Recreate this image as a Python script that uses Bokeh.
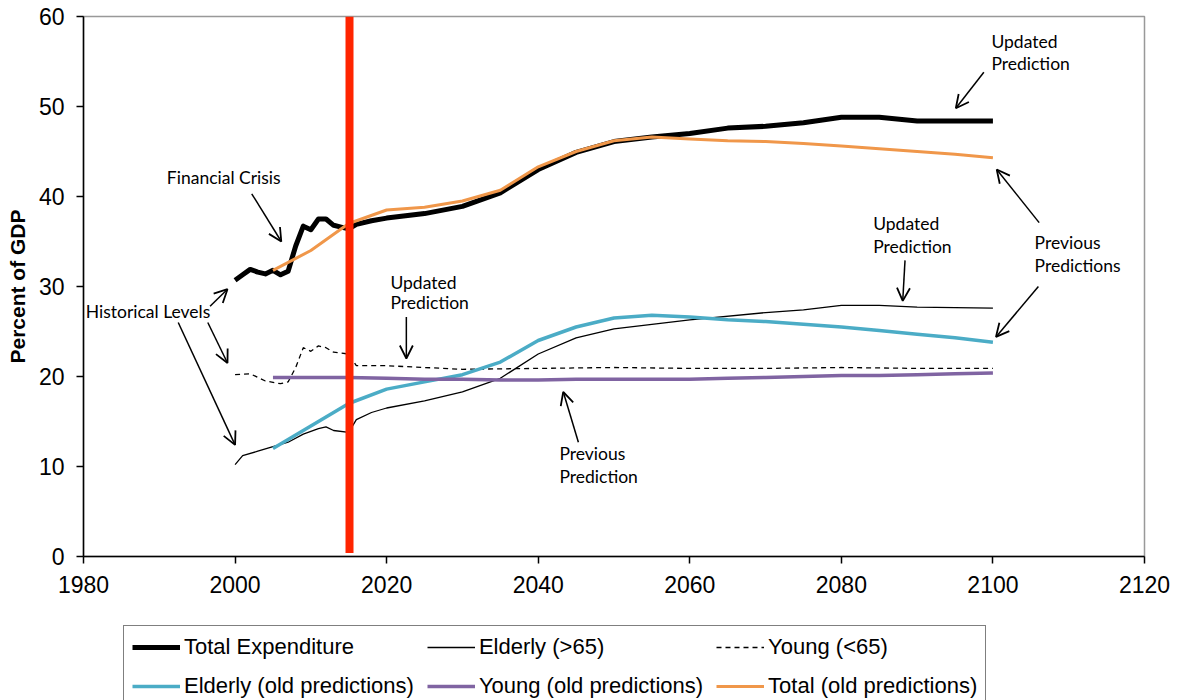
from bokeh.plotting import figure
from bokeh.layouts import column
from bokeh.models import (FixedTicker, Legend, LegendItem, Label, Arrow, OpenHead)
from bokeh.embed import file_html
from bokeh.resources import INLINE

# ---------------- data ----------------
total_years = [2000, 2001, 2002, 2003, 2004, 2005, 2006, 2007, 2008, 2009, 2010, 2011,
               2012, 2013, 2014, 2015, 2016, 2018, 2020, 2025, 2030, 2035, 2040, 2045,
               2050, 2055, 2060, 2065, 2070, 2075, 2080, 2085, 2090, 2095, 2100]
total_vals = [30.7, 31.3, 31.9, 31.6, 31.4, 31.8, 31.3, 31.7, 34.5, 36.7, 36.3, 37.5,
              37.5, 36.8, 36.6, 36.4, 36.9, 37.3, 37.6, 38.1, 38.9, 40.4, 43.0, 44.9,
              46.1, 46.6, 47.0, 47.6, 47.8, 48.2, 48.8, 48.8, 48.4, 48.4, 48.4]

elderly_years = [2000, 2001, 2003, 2005, 2007, 2009, 2011, 2012, 2013, 2015, 2016, 2018,
                 2020, 2025, 2030, 2035, 2040, 2045, 2050, 2055, 2060, 2070, 2075, 2080,
                 2085, 2090, 2100]
elderly_vals = [10.2, 11.2, 11.7, 12.2, 12.7, 13.6, 14.2, 14.4, 14.0, 13.8, 15.2, 16.0,
                16.5, 17.3, 18.3, 19.8, 22.5, 24.3, 25.3, 25.8, 26.3, 27.1, 27.4, 27.9,
                27.9, 27.7, 27.6]

young_years = [2000, 2002, 2004, 2006, 2007, 2008, 2009, 2010, 2011, 2012, 2013, 2015,
               2016, 2020, 2025, 2030, 2040, 2050, 2060, 2070, 2080, 2090, 2100]
young_vals = [20.2, 20.3, 19.5, 19.2, 19.4, 21.0, 23.2, 22.8, 23.4, 23.2, 22.7, 22.5,
              21.2, 21.2, 21.0, 20.8, 20.9, 21.0, 20.9, 20.9, 21.0, 20.9, 20.9]

old_years = [2005, 2010, 2015, 2020, 2025, 2030, 2035, 2040, 2045, 2050, 2055, 2060,
             2065, 2070, 2075, 2080, 2085, 2090, 2095, 2100]
elderly_old = [12.0, 14.5, 17.0, 18.6, 19.4, 20.2, 21.6, 24.0, 25.5, 26.5, 26.8, 26.6,
               26.3, 26.1, 25.8, 25.5, 25.1, 24.7, 24.3, 23.8]
young_old = [19.9, 19.9, 19.9, 19.8, 19.7, 19.7, 19.6, 19.6, 19.7, 19.7, 19.7, 19.7,
             19.8, 19.9, 20.0, 20.1, 20.1, 20.2, 20.3, 20.4]
total_old = [31.8, 34.0, 37.0, 38.5, 38.8, 39.5, 40.7, 43.3, 45.0, 46.2, 46.6, 46.4,
             46.2, 46.1, 45.9, 45.6, 45.3, 45.0, 44.7, 44.3]

crisis_year = [2015.1]
crisis_from = [0.4]
crisis_to = [60.0]

x_ticks = [1980, 2000, 2020, 2040, 2060, 2080, 2100, 2120]
y_ticks = [0, 10, 20, 30, 40, 50, 60]

legend_labels = ["Total Expenditure", "Elderly (>65)", "Young (<65)",
                 "Elderly (old predictions)", "Young (old predictions)", "Total (old predictions)"]

# annotation texts: (text, x, y)
notes = [
    ("Financial Crisis", 1991.0, 42.1),
    ("Historical Levels", 1980.3, 27.2),
    ("Updated", 2020.5, 30.5), ("Prediction", 2020.5, 28.2),
    ("Previous", 2042.8, 11.5), ("Prediction", 2042.8, 8.9),
    ("Updated", 2084.2, 37.0), ("Prediction", 2084.2, 34.4),
    ("Previous", 2105.5, 34.9), ("Predictions", 2105.5, 32.3),
    ("Updated", 2099.8, 57.2), ("Prediction", 2099.8, 54.8),
]
# arrows: (x_start, y_start, x_end, y_end)
arrows = [
    (2002.2, 40.3, 2006.1, 35.0),
    (1996.7, 27.8, 1999.0, 29.7),
    (1996.4, 26.0, 1999.0, 21.5),
    (1992.5, 26.0, 2000.0, 12.4),
    (2022.6, 26.6, 2022.6, 22.0),
    (2045.3, 12.7, 2043.3, 18.3),
    (2088.4, 32.9, 2088.1, 28.4),
    (2106.1, 37.1, 2100.5, 43.0),
    (2106.0, 30.0, 2100.4, 24.4),
    (2098.8, 53.8, 2095.1, 49.8),
]

# ---------------- main figure ----------------
p = figure(width=1180, height=612, x_range=(1980, 2120), y_range=(0, 60),
           output_backend="svg", toolbar_location=None,
           min_border_left=83, min_border_top=16, min_border_right=36, min_border_bottom=56)
p.xgrid.visible = False
p.ygrid.visible = False
p.outline_line_color = "#999999"
p.outline_line_width = 1.5
p.background_fill_color = "white"
p.border_fill_color = "white"

for ax in (p.xaxis[0], p.yaxis[0]):
    ax.axis_line_color = "black"
    ax.axis_line_width = 1.5
    ax.major_tick_line_color = "black"
    ax.major_tick_line_width = 1.5
    ax.major_tick_out = 7
    ax.major_tick_in = 0
    ax.minor_tick_line_color = None
    ax.major_label_text_font = "Liberation Sans"
    ax.major_label_text_font_size = "23px"
    ax.major_label_text_color = "black"

p.xaxis.ticker = FixedTicker(ticks=x_ticks)
p.yaxis.ticker = FixedTicker(ticks=y_ticks)
p.xaxis.major_label_standoff = 12
p.yaxis.major_label_standoff = 12
p.yaxis.axis_label = "Percent of GDP"
p.yaxis.axis_label_text_font = "Liberation Sans"
p.yaxis.axis_label_text_font_size = "21px"
p.yaxis.axis_label_text_font_style = "bold"
p.yaxis.axis_label_text_color = "black"
p.yaxis.axis_label_standoff = 7

styles = [dict(line_color="black", line_width=5, line_join="round"),
          dict(line_color="black", line_width=1.3),
          dict(line_color="black", line_width=1.3, line_dash="5 4"),
          dict(line_color="#4BACC6", line_width=3.5),
          dict(line_color="#8064A2", line_width=3.5),
          dict(line_color="#F0974A", line_width=3)]
series = [(total_years, total_vals), (elderly_years, elderly_vals), (young_years, young_vals),
          (old_years, elderly_old), (old_years, young_old), (old_years, total_old)]

for (xs, ys), st in zip(series, styles):
    p.line(xs, ys, **st)

p.segment(x0=crisis_year, y0=crisis_from, x1=crisis_year, y1=crisis_to,
          line_color="#FF2400", line_width=8)

for t, x, y in notes:
    p.add_layout(Label(x=x, y=y, text=t, text_font="Lato", text_font_size="17.5px",
                       text_color="black", text_baseline="middle", text_align="left"))

for xs, ys, xe, ye in arrows:
    p.add_layout(Arrow(x_start=xs, y_start=ys, x_end=xe, y_end=ye, line_width=1.5,
                       line_color="black",
                       end=OpenHead(size=13, line_width=1.8, line_color="black")))

# ---------------- legend strip ----------------
# same series drawn again (outside this strip's visible range) so the legend has its glyphs
q = figure(width=1180, height=88, x_range=(0, 1), y_range=(0, 1),
           output_backend="svg", toolbar_location=None,
           min_border_left=0, min_border_right=0, min_border_top=0, min_border_bottom=0)
q.axis.visible = False
q.grid.visible = False
q.outline_line_color = None
q.border_fill_color = "white"
q.background_fill_color = "white"

leg_renderers = [q.line(xs, ys, **st) for (xs, ys), st in zip(series, styles)]
items = [LegendItem(label=lab, renderers=[r]) for lab, r in zip(legend_labels, leg_renderers)]
legend = Legend(items=items, orientation="horizontal", ncols=3,
                location=(40, -8),
                label_text_font="Liberation Sans", label_text_font_size="22px",
                label_text_color="black",
                glyph_width=48, glyph_height=26, label_height=26, label_standoff=4,
                spacing=13, padding=8, margin=0,
                border_line_color="black", border_line_width=1.5,
                background_fill_color="white", background_fill_alpha=1.0)
q.add_layout(legend, "center")

layout = column(p, q, spacing=0)
open("out.html", "w").write(file_html(layout, INLINE))
